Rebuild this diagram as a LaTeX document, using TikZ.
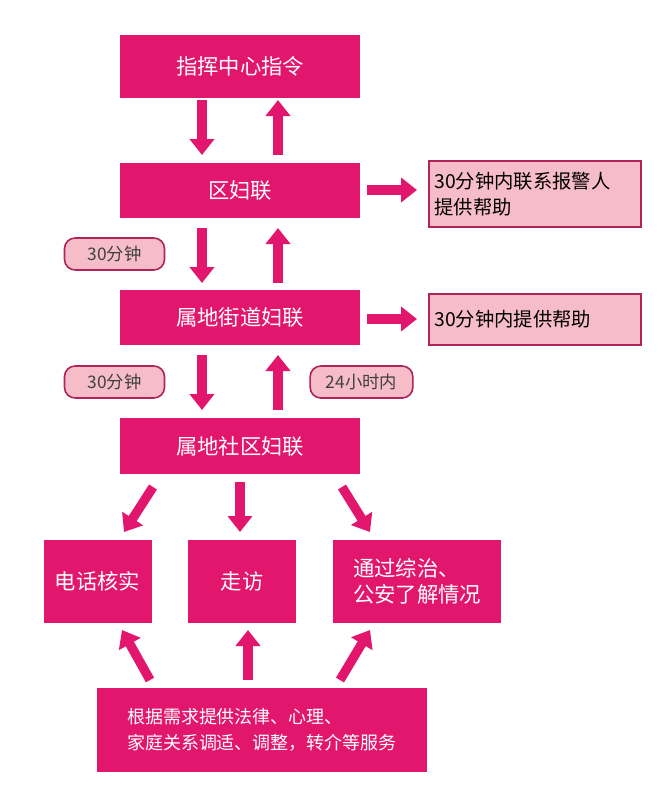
\documentclass[tikz,border=0pt]{standalone}
\usepackage{fontspec}
\setmainfont{Noto Sans CJK SC}
\usetikzlibrary{arrows.meta}
\definecolor{mag}{HTML}{E2166C}
\definecolor{lp}{HTML}{F6BCC8}
\definecolor{dk}{HTML}{B0245A}
\begin{document}
\begin{tikzpicture}[x=0.75pt,y=-0.75pt,
  mbox/.style={fill=mag,text=white,inner sep=0,font=\fontsize{16}{20}\selectfont},
  pbox/.style={fill=lp,draw=dk,line width=1.5pt,inner sep=0,font=\fontsize{14.5}{20}\selectfont},
  tag/.style={fill=lp,draw=dk,line width=1.2pt,rounded corners=8pt,inner sep=0,font=\fontsize{13}{16}\selectfont,text=black!75},
  fa/.style={draw=mag,line width=7pt,-{Triangle[width=18pt,length=12pt]}}]
\useasboundingbox (0,0) rectangle (672,808);
\fill[white] (0,0) rectangle (672,808);
\node[mbox,minimum width=180pt,minimum height=47pt] (top) at (240,66.5) {指挥中心指令};
\node[mbox,minimum width=180pt,minimum height=41pt] (qu) at (240,190.5) {区妇联};
\node[mbox,minimum width=180pt,minimum height=41pt] (jd) at (240,317.5) {属地街道妇联};
\node[mbox,minimum width=180pt,minimum height=42pt] (sq) at (240,446) {属地社区妇联};
\node[mbox,minimum width=81pt,minimum height=62pt] (dh) at (97.5,581.5) {电话核实};
\node[mbox,minimum width=81pt,minimum height=62pt] (zf) at (242,581.5) {走访};
\node[mbox,minimum width=126pt,minimum height=62pt,align=left] (tg) at (417,581.5) {通过综治、\\公安了解情况};
\node[mbox,minimum width=247pt,minimum height=63pt,align=left,font=\fontsize{13.5}{20}\selectfont] (bt) at (262,730) {根据需求提供法律、心理、\\家庭关系调适、调整，转介等服务};
\node[pbox,minimum width=159pt,minimum height=50pt,align=left,text width=150pt] (r1) at (534.5,194) {30分钟内联系报警人\\提供帮助};
\node[pbox,minimum width=159pt,minimum height=38pt,align=left,text width=150pt] (r2) at (534.5,319.5) {30分钟内提供帮助};
\node[tag,minimum width=75pt,minimum height=24pt] (t1) at (114.5,254) {30分钟};
\node[tag,minimum width=75pt,minimum height=24pt] (t2) at (114.5,382) {30分钟};
\node[tag,minimum width=77pt,minimum height=24pt] (t3) at (361.5,382) {24小时内};
\coordinate (a1) at (202,100); \coordinate (a2) at (202,155);
\draw[fa] (a1) -- (a2);
\coordinate (b1) at (278,155); \coordinate (b2) at (278,100);
\draw[fa] (b1) -- (b2);
\coordinate (c1) at (202,228); \coordinate (c2) at (202,283);
\draw[fa] (c1) -- (c2);
\coordinate (d1) at (278,283); \coordinate (d2) at (278,228);
\draw[fa] (d1) -- (d2);
\coordinate (e1) at (202,355); \coordinate (e2) at (202,410);
\draw[fa] (e1) -- (e2);
\coordinate (f1) at (278,410); \coordinate (f2) at (278,355);
\draw[fa] (f1) -- (f2);
\coordinate (g1) at (367,190); \coordinate (g2) at (417,190);
\draw[fa] (g1) -- (g2);
\coordinate (h1) at (367,319); \coordinate (h2) at (417,319);
\draw[fa] (h1) -- (h2);
\coordinate (i1) at (153,487); \coordinate (i2) at (124,532);
\draw[fa] (i1) -- (i2);
\coordinate (j1) at (240,482); \coordinate (j2) at (240,532);
\draw[fa] (j1) -- (j2);
\coordinate (k1) at (342,487); \coordinate (k2) at (370,532);
\draw[fa] (k1) -- (k2);
\coordinate (l1) at (150,680); \coordinate (l2) at (122,630);
\draw[fa] (l1) -- (l2);
\coordinate (m1) at (248,680); \coordinate (m2) at (248,630);
\draw[fa] (m1) -- (m2);
\coordinate (n1) at (340,680); \coordinate (n2) at (370,630);
\draw[fa] (n1) -- (n2);
\end{tikzpicture}
\end{document}
